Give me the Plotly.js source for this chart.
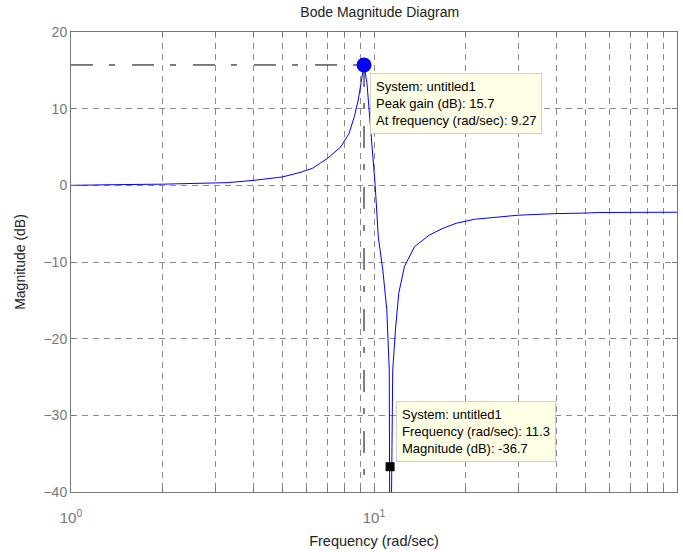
<!DOCTYPE html>
<html>
<head>
<meta charset="utf-8">
<script src="https://cdn.plot.ly/plotly-3.0.1.min.js"></script>
<style>
  html, body { margin: 0; padding: 0; background: #fff; }
  #chart { width: 683px; height: 552px; }
</style>
</head>
<body>
<div id="chart"></div>
<script>
// Frequency response of untitled1 (rad/sec vs dB)
const freq = [1, 1.31, 1.42, 2.0, 2.67, 3.28, 4.01, 4.98, 5.73, 6.27, 7.03, 7.78, 8.28, 8.61, 8.87, 9.06,
              9.27, 9.48, 9.77, 10.02, 10.09, 10.33, 10.69, 11.02, 11.16, 11.23, 11.3, 11.53, 11.77, 12.07,
              12.6, 13.6, 15.25, 16.89, 18.68, 21.5, 29.9, 39.5, 49.9, 55.1, 100];
const magDb = [0, 0, 0.09, 0.15, 0.22, 0.35, 0.65, 1.09, 1.7, 2.23, 3.53, 5.05, 6.8, 8.96, 11.13, 13.3,
               15.7, 13.3, 6.8, 2.0, 0, -6.7, -11.0, -16.2, -21.0, -24.1, -60, -24.1, -18.85, -14.07,
               -10.6, -8.0, -6.47, -5.6, -4.95, -4.42, -3.9, -3.69, -3.62, -3.54, -3.51];

// Data tips
const peakFreq = [9.27];
const peakGain = [15.7];
const probeFreq = [11.3];
const probeMag = [-36.7];

// Axis ticks
const xTickVals = [1, 10, 100];
const xTickText = ['10<sup>0</sup>', '10<sup>1</sup>', '10<sup>2</sup>'];
const yTickVals = [-40, -30, -20, -10, 0, 10, 20];

const FONT = 'Liberation Sans, Arial, sans-serif';
const yMin = -40, yMax = 20;
const peakDash = '22px,16px,6px,17px';

const traces = [
  { // horizontal guide to the peak
    x: [freq[0], peakFreq[0]], y: [peakGain[0], peakGain[0]],
    mode: 'lines', line: { color: '#000', width: 1, dash: peakDash },
    hoverinfo: 'skip', showlegend: false
  },
  { // vertical guide from the peak
    x: [peakFreq[0], peakFreq[0]], y: [peakGain[0], yMin],
    mode: 'lines', line: { color: '#000', width: 1, dash: peakDash },
    hoverinfo: 'skip', showlegend: false
  },
  { // magnitude curve
    x: freq, y: magDb, mode: 'lines',
    line: { color: '#0000ff', width: 1 }, showlegend: false
  },
  { // peak marker
    x: peakFreq, y: peakGain, mode: 'markers',
    marker: { color: '#0000ff', size: 15, symbol: 'circle' }, showlegend: false
  },
  { // probe marker
    x: probeFreq, y: probeMag, mode: 'markers',
    marker: { color: '#000', size: 9, symbol: 'square' }, showlegend: false
  }
];

const tipBox = {
  xref: 'x', yref: 'y', showarrow: false, align: 'left',
  bgcolor: '#ffffe6', bordercolor: '#cfcfcf', borderwidth: 1, borderpad: 5,
  font: { family: FONT, size: 13, color: '#000' }
};

const layout = {
  width: 683, height: 552,
  margin: { l: 71, r: 6, t: 32, b: 60 },
  paper_bgcolor: '#fff', plot_bgcolor: '#fff',
  font: { family: FONT, size: 13, color: '#666' },
  title: {
    text: 'Bode Magnitude Diagram',
    font: { family: FONT, size: 14, color: '#222' },
    x: 0.556, xanchor: 'center', y: 0.978, yanchor: 'middle'
  },
  xaxis: {
    type: 'log', range: [0, 2],
    tickvals: xTickVals, ticktext: xTickText,
    tickfont: { family: FONT, size: 15, color: '#777' },
    ticks: 'inside', ticklen: 5, tickcolor: '#777',
    ticklabelstandoff: 12,
    showline: true, linecolor: '#777', linewidth: 1, mirror: 'ticks',
    showgrid: true, gridcolor: '#8c8c8c', gridwidth: 1, griddash: '6px,5px',
    minor: { dtick: 'D1', showgrid: true, gridcolor: '#8c8c8c', gridwidth: 1, griddash: '6px,5px',
             ticks: 'inside', ticklen: 4, tickcolor: '#777' },
    zeroline: false,
    title: { text: 'Frequency (rad/sec)', font: { family: FONT, size: 14.5, color: '#222' }, standoff: 10 }
  },
  yaxis: {
    range: [yMin, yMax], tickvals: yTickVals,
    tickfont: { family: FONT, size: 14, color: '#777' },
    ticks: 'inside', ticklen: 5, tickcolor: '#777',
    showline: true, linecolor: '#777', linewidth: 1, mirror: 'ticks',
    showgrid: true, gridcolor: '#8c8c8c', gridwidth: 1, griddash: '6px,5px',
    zeroline: false,
    title: { text: 'Magnitude (dB)', font: { family: FONT, size: 14, color: '#222' }, standoff: 14 }
  },
  annotations: [
    Object.assign({}, tipBox, {
      x: Math.log10(peakFreq[0]), y: peakGain[0], xanchor: 'left', yanchor: 'top',
      xshift: 6, yshift: -8,
      text: 'System: untitled1<br>Peak gain (dB): ' + peakGain[0] +
            '<br>At frequency (rad/sec): ' + peakFreq[0]
    }),
    Object.assign({}, tipBox, {
      x: Math.log10(probeFreq[0]), y: probeMag[0], xanchor: 'left', yanchor: 'bottom',
      xshift: 6, yshift: 5,
      text: 'System: untitled1<br>Frequency (rad/sec): ' + probeFreq[0] +
            '<br>Magnitude (dB): ' + probeMag[0]
    })
  ]
};

Plotly.newPlot('chart', traces, layout, { staticPlot: true, displayModeBar: false });
</script>
</body>
</html>
